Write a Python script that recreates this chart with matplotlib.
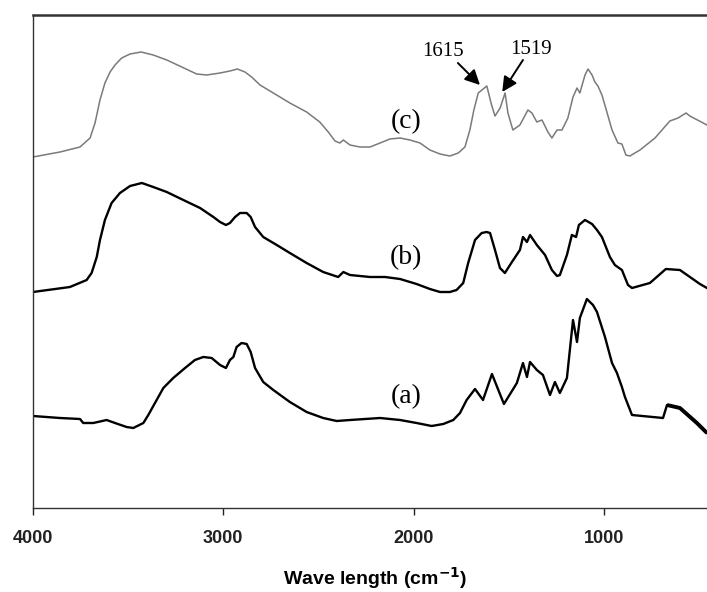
import numpy as np
import matplotlib
matplotlib.use("Agg")
import matplotlib.pyplot as plt

# FTIR spectra, wavenumber (cm-1) vs. offset intensity (a.u.)
wn_c = [4000, 3858, 3753, 3700, 3674, 3648, 3622, 3595, 3569, 3534, 3490, 3432,
        3368, 3297, 3218, 3140, 3087, 3017, 2965, 2926, 2886, 2851, 2807, 2737,
        2650, 2562, 2493, 2448, 2413, 2387, 2369, 2334, 2282, 2229, 2176, 2124,
        2071, 2019, 1966, 1914, 1861, 1809, 1765, 1730, 1704, 1683, 1660, 1615,
        1590, 1572, 1545, 1519, 1504, 1478, 1441, 1399, 1378, 1352, 1325, 1294,
        1273, 1246, 1220, 1189, 1162, 1141, 1126, 1099, 1083, 1062, 1047, 1031,
        1010, 984, 957, 926, 905, 884, 863, 810, 731, 653, 610, 568, 548, 458]
int_c = [351, 356, 361, 370, 385, 408, 425, 436, 443, 450, 454, 456,
         453, 448, 441, 434, 433, 435, 437, 439, 436, 431, 423, 415,
         405, 396, 386, 376, 367, 365, 368, 363, 361, 361, 365, 369,
         370, 368, 365, 358, 354, 352, 355, 361, 378, 398, 415, 422,
         403, 392, 400, 415, 395, 378, 383, 398, 395, 386, 388, 376,
         370, 378, 378, 390, 411, 420, 415, 433, 439, 433, 426, 422,
         413, 396, 378, 365, 364, 353, 352, 358, 370, 387, 390, 395, 392, 383]

wn_b = [4000, 3806, 3718, 3692, 3665, 3648, 3622, 3587, 3543, 3490, 3428, 3368,
        3297, 3210, 3122, 3052, 3017, 2986, 2965, 2938, 2912, 2877, 2856, 2833,
        2790, 2719, 2650, 2562, 2475, 2396, 2369, 2334, 2229, 2150, 2071, 1984,
        1914, 1861, 1809, 1774, 1739, 1713, 1677, 1642, 1616, 1598, 1572, 1546,
        1520, 1483, 1441, 1425, 1404, 1388, 1352, 1309, 1273, 1246, 1231, 1194,
        1168, 1146, 1131, 1099, 1062, 1036, 1010, 968, 942, 905, 873, 852, 758,
        674, 600, 495, 458]
int_b = [216, 221, 228, 235, 251, 268, 288, 305, 315, 322, 325, 321,
         316, 308, 300, 291, 286, 283, 285, 291, 295, 295, 291, 281,
         271, 263, 255, 245, 236, 231, 236, 233, 231, 231, 229, 224,
         219, 216, 216, 218, 225, 245, 268, 275, 276, 275, 258, 240,
         235, 246, 258, 271, 266, 273, 263, 253, 238, 232, 233, 253,
         273, 271, 283, 288, 284, 278, 271, 251, 243, 238, 223, 220, 225,
         239, 238, 224, 220]

wn_a = [4000, 3858, 3753, 3736, 3683, 3613, 3569, 3508, 3473, 3420, 3394, 3359,
        3315, 3263, 3201, 3149, 3105, 3061, 3017, 2986, 2965, 2947, 2930, 2904,
        2877, 2856, 2833, 2790, 2737, 2650, 2562, 2475, 2404, 2334, 2176, 2071,
        1984, 1905, 1844, 1791, 1756, 1721, 1677, 1635, 1588, 1525, 1457, 1425,
        1404, 1388, 1352, 1320, 1283, 1257, 1231, 1194, 1162, 1141, 1126, 1089,
        1057, 1036, 994, 957, 931, 905, 889, 852, 689, 668, 600, 511, 458]
int_a = [92, 90, 89, 85, 85, 88, 85, 81, 80, 85, 93, 105,
         120, 130, 140, 148, 151, 150, 143, 140, 148, 151, 161, 165,
         164, 156, 140, 126, 118, 106, 96, 90, 87, 88, 90, 88,
         85, 82, 84, 88, 95, 108, 119, 108, 134, 104, 125, 145,
         131, 146, 138, 133, 113, 126, 115, 130, 188, 166, 190, 209,
         203, 196, 171, 145, 135, 121, 111, 93, 90, 103, 100, 85, 75]

curve_labels = ["(a)", "(b)", "(c)"]
peak_labels = [1615, 1519]

fig = plt.figure(figsize=(7.07, 5.92), dpi=100)
ax = fig.add_axes([33 / 707, 84 / 592, 685 / 707, 493 / 592])

ax.plot(wn_c, int_c, color="#7a7a7a", lw=1.1)
ax.plot(wn_b, int_b, color="black", lw=1.7)
ax.plot(wn_a, int_a, color="black", lw=1.7)
# noisy low-wavenumber tail of (a) shows up as a heavier trace
ax.plot(wn_a[-4:], int_a[-4:], color="black", lw=2.8, solid_capstyle="butt")

ax.set_xlim(4000, 400)
ax.set_ylim(0, 493)

serif = "Liberation Serif"
ax.text(2040, 386, curve_labels[2], fontsize=20, family=serif, ha="center", va="center")
ax.text(2040, 250, curve_labels[1], fontsize=20, family=serif, ha="center", va="center")
ax.text(2040, 111, curve_labels[0], fontsize=20, family=serif, ha="center", va="center")

# arrows pointing at the two aromatic bands of (c)
arrow = dict(arrowstyle="-|>,head_length=0.9,head_width=0.45", color="black", lw=1.4,
             shrinkA=0, shrinkB=0)
ax.annotate("", xy=(peak_labels[0] + 36, 423), xytext=(1767, 445), arrowprops=arrow)
ax.annotate("", xy=(peak_labels[1] + 15, 416), xytext=(1425, 448), arrowprops=arrow)
ax.text(1845, 456, str(peak_labels[0]), fontsize=15, family=serif, ha="center", va="center")
ax.text(1383, 459, str(peak_labels[1]), fontsize=15, family=serif, ha="center", va="center")

ax.set_xticks([4000, 3000, 2000, 1000])
ax.set_yticks([])
ax.tick_params(axis="x", direction="out", length=5, width=1, pad=11, colors="#222222")
for lab in ax.get_xticklabels():
    lab.set_fontweight("bold")
    lab.set_fontsize(13)
    lab.set_family("Liberation Sans")
for side in ["left", "bottom", "top"]:
    ax.spines[side].set_color("#333333")
ax.spines["left"].set_linewidth(1.0)
ax.spines["bottom"].set_linewidth(1.0)
ax.spines["top"].set_linewidth(1.8)
ax.spines["right"].set_visible(False)

ax.set_xlabel("Wave length (cm$^{\\mathbf{-1}}$)", fontsize=14, fontweight="bold",
              family="Liberation Sans", labelpad=13)

fig.savefig("out.png", dpi=100)
